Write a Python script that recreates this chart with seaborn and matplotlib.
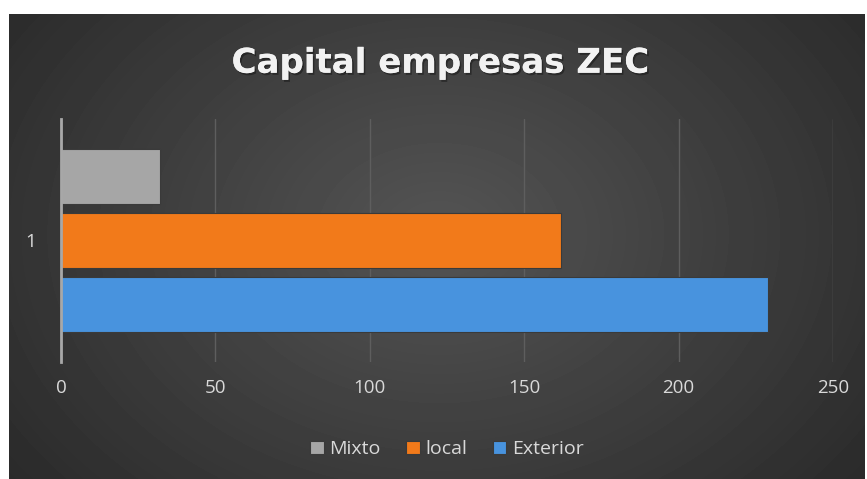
import numpy as np
import pandas as pd
import matplotlib
matplotlib.use("Agg")
import matplotlib.pyplot as plt
import matplotlib.patheffects as pe
import seaborn as sns

# data
categories = ["1"]
series = ["Mixto", "local", "Exterior"]
values = [32, 162, 229]
colors = ["#a6a6a6", "#f27a1a", "#4893de"]
xticks = [0, 50, 100, 150, 200, 250]

df = pd.DataFrame({"cat": categories * len(series), "serie": series, "valor": values})

sns.set_theme(style="white")
plt.rcParams["font.family"] = ["Open Sans", "DejaVu Sans"]

fig = plt.figure(figsize=(8.67, 4.79), dpi=100)
fig.patch.set_facecolor("white")

# dark radial gradient panel
bg = fig.add_axes([9 / 867, 0, 856 / 867, 465 / 479])
yy, xx = np.mgrid[0:465, 0:856]
r = np.sqrt(((xx - 430) / 560) ** 2 + ((yy - 220) / 420) ** 2)
shade = np.clip(0.33 - 0.17 * r, 0.16, 0.34)
bg.imshow(shade, cmap="gray", vmin=0, vmax=1, aspect="auto", interpolation="bilinear")
bg.axis("off")

ax = fig.add_axes([61 / 867, 1 - 362 / 479, 772 / 867, 243 / 479])
ax.set_facecolor("none")
sns.barplot(data=df, x="valor", y="cat", hue="serie", hue_order=series,
            palette=colors, saturation=1, orient="h", width=0.9, gap=0.15, ax=ax,
            edgecolor="#3a3a3a", linewidth=0.8, legend=True)

ax.set_xlim(0, 250)
ax.set_ylim(0.57, -0.57)
ax.set_xticks(xticks)
ax.grid(axis="x", color="#5e5e5e", linewidth=1)
ax.set_axisbelow(True)
for s in ["top", "right", "bottom"]:
    ax.spines[s].set_visible(False)
ax.spines["left"].set_color("#a8a8a8")
ax.spines["left"].set_linewidth(2)
ax.tick_params(axis="both", colors="#d9d9d9", labelsize=13.5, length=0)
ax.tick_params(axis="x", pad=12)
ax.tick_params(axis="y", pad=18)
ax.set_xlabel("")
ax.set_ylabel("")

leg = ax.legend(loc="upper center", bbox_to_anchor=(0.5, -0.25), ncol=3, frameon=False,
                fontsize=14, handlelength=0.7, handleheight=0.7, handletextpad=0.3,
                columnspacing=1.3, labelcolor="#d9d9d9")

fig.text(0.508, 0.868, "Capital empresas ZEC", ha="center", va="center",
         fontsize=24.5, fontweight="bold", color="#f2f2f2", family="DejaVu Sans",
         path_effects=[pe.withSimplePatchShadow(offset=(1.2, -1.5), shadow_rgbFace="black", alpha=0.35), pe.Normal()])

fig.savefig("out.png", dpi=100)
